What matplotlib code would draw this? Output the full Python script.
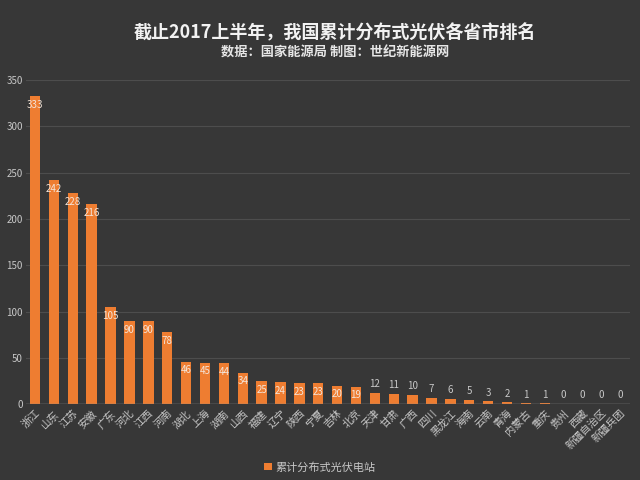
import matplotlib.pyplot as plt
from matplotlib.patches import Patch

plt.rcParams['font.family'] = ['Noto Sans CJK SC', 'DejaVu Sans']

provinces = ['浙江', '山东', '江苏', '安徽', '广东', '河北', '江西', '河南', '湖北', '上海',
             '湖南', '山西', '福建', '辽宁', '陕西', '宁夏', '吉林', '北京', '天津', '甘肃',
             '广西', '四川', '黑龙江', '海南', '云南', '青海', '内蒙古', '重庆', '贵州', '西藏',
             '新疆自治区', '新疆兵团']
stations = [333, 242, 228, 216, 105, 90, 90, 78, 46, 45,
            44, 34, 25, 24, 23, 23, 20, 19, 12, 11,
            10, 7, 6, 5, 3, 2, 1, 1, 0, 0,
            0, 0]
y_ticks = [0, 50, 100, 150, 200, 250, 300, 350]

bg = '#373737'
bar_color = '#ee7d31'
text_gray = '#c8c8c8'

fig = plt.figure(figsize=(6.4, 4.8), dpi=100, facecolor=bg)
ax = fig.add_axes([0.04, 0.158, 0.944, 0.675], facecolor=bg)

x = list(range(len(provinces)))
ax.bar(x, stations, width=0.55, color=bar_color, zorder=3)

for xi, v in zip(x, stations):
    if v >= 15:
        ax.text(xi, v - 4, str(v), ha='center', va='top', fontsize=7,
                color='#f4e4d8', zorder=4)
    else:
        ax.text(xi, v + 4, str(v), ha='center', va='bottom', fontsize=7,
                color=text_gray, zorder=4)

ax.set_xlim(-0.5, len(provinces) - 0.5)
ax.set_ylim(0, 350)
ax.set_yticks(y_ticks)
ax.grid(axis='y', color='#4d4d4d', linewidth=0.8, zorder=0)
ax.axhline(0, color='#8a8a8a', linewidth=1, zorder=5)

ax.set_xticks(x)
ax.set_xticklabels(provinces, rotation=45, ha='right', rotation_mode='anchor',
                   fontsize=7.5, color=text_gray)
ax.tick_params(axis='y', labelsize=7, colors=text_gray, length=0, pad=2)
ax.tick_params(axis='x', length=0, pad=3)
for side in ['top', 'right', 'left', 'bottom']:
    ax.spines[side].set_visible(False)

fig.text(0.523, 0.932, '截止2017上半年，我国累计分布式光伏各省市排名', ha='center', va='center',
         fontsize=13, fontweight='bold', color='#f2f2f2')
fig.text(0.523, 0.89, '数据：国家能源局 制图：世纪新能源网', ha='center', va='center',
         fontsize=9.5, fontweight='bold', color='#e6e6e6')

handle = Patch(facecolor=bar_color, label='累计分布式光伏电站')
fig.legend(handles=[handle], loc='center', bbox_to_anchor=(0.5, 0.027), frameon=False,
           fontsize=8, labelcolor=text_gray, handlelength=0.7, handleheight=0.7,
           handletextpad=0.3)

fig.savefig('out.png', dpi=100, facecolor=bg)
